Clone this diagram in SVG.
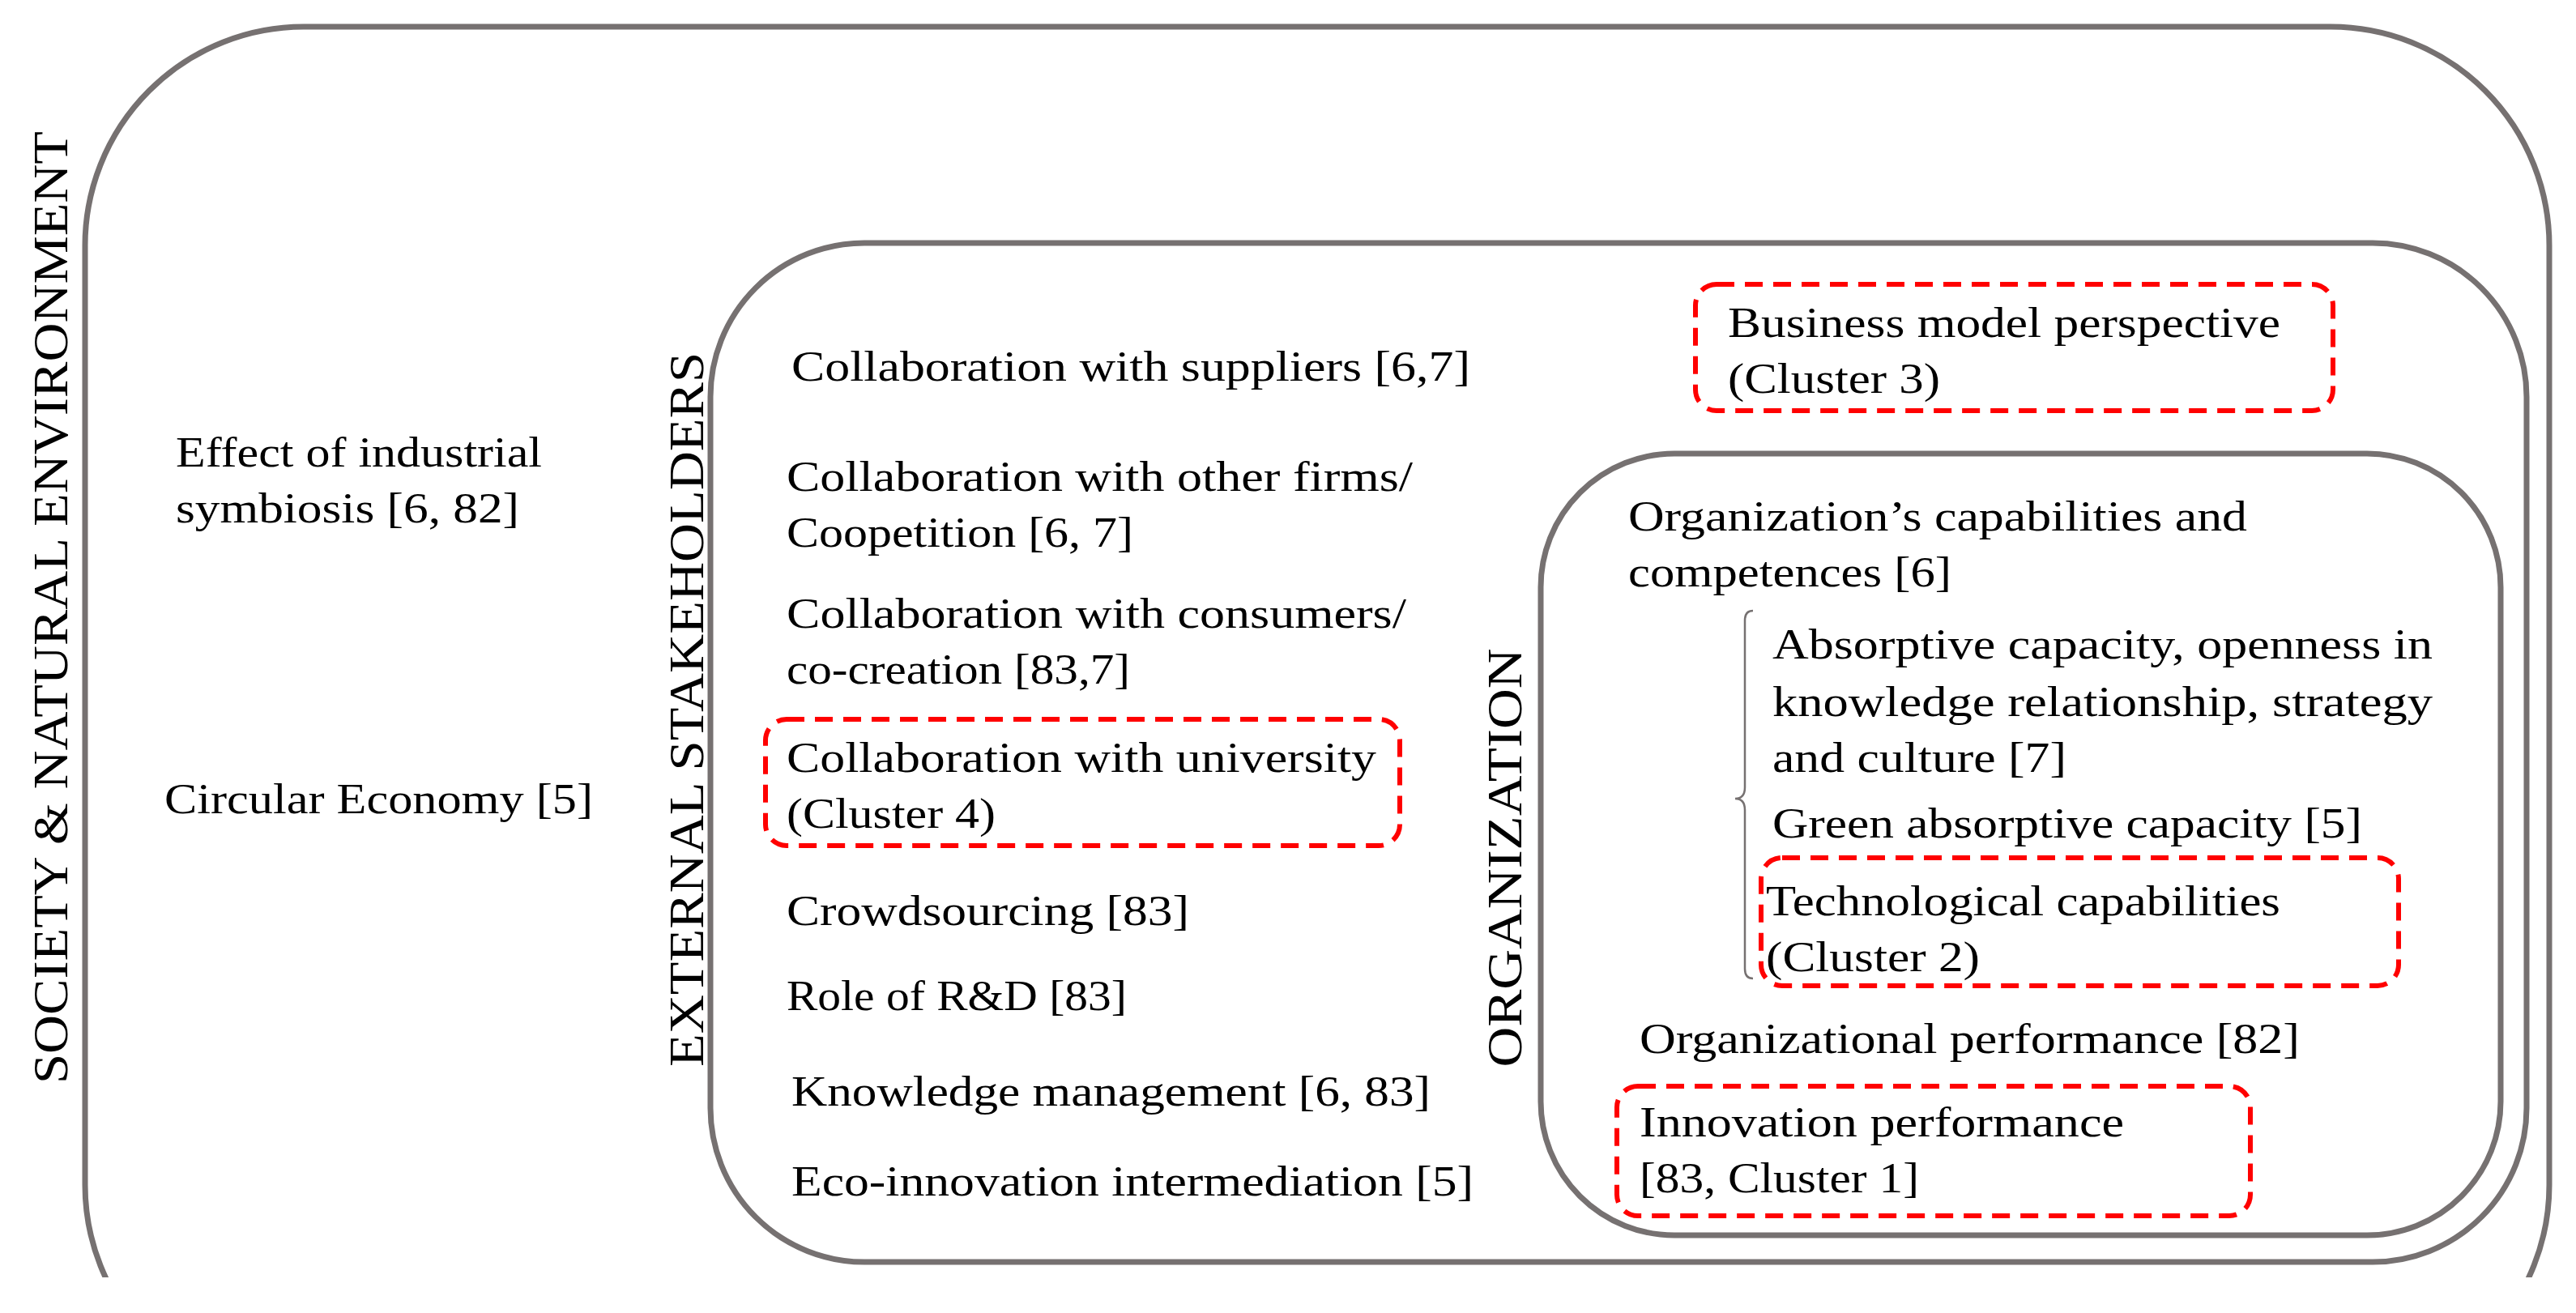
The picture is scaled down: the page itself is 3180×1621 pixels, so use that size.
<svg xmlns="http://www.w3.org/2000/svg" width="3180" height="1621" viewBox="0 0 3180 1621">
<style>
.box{fill:none;stroke:#767171;stroke-width:7}
.dash{fill:none;stroke:#ff0000;stroke-width:6;stroke-dasharray:22 13}
text{font-family:"Liberation Serif",serif;font-size:52px;fill:#000}
.v{font-size:62px}
</style>
<defs><clipPath id="c"><rect x="0" y="0" width="3180" height="1577"/></clipPath></defs>
<rect width="3180" height="1621" fill="#fff"/>
<g id="society">
<rect class="box" x="105" y="33" width="3042" height="1700" rx="270" ry="270" clip-path="url(#c)"/>
<text class="v" transform="translate(83,750) rotate(-90)" text-anchor="middle" textLength="1176" lengthAdjust="spacingAndGlyphs">SOCIETY &amp; NATURAL ENVIRONMENT</text>
<text x="217" y="576" textLength="452" lengthAdjust="spacingAndGlyphs">Effect of industrial</text>
<text x="217" y="645" textLength="424" lengthAdjust="spacingAndGlyphs">symbiosis  [6, 82]</text>
<text x="203" y="1004" textLength="529" lengthAdjust="spacingAndGlyphs">Circular Economy [5]</text>
</g>
<g id="external">
<rect class="box" x="877" y="300" width="2242" height="1258" rx="190" ry="190"/>
<text class="v" transform="translate(868,876) rotate(-90)" text-anchor="middle" textLength="882" lengthAdjust="spacingAndGlyphs">EXTERNAL STAKEHOLDERS</text>
<text x="977" y="470" textLength="838" lengthAdjust="spacingAndGlyphs">Collaboration with suppliers [6,7]</text>
<text x="971" y="606" textLength="773" lengthAdjust="spacingAndGlyphs">Collaboration with other firms/</text>
<text x="971" y="675" textLength="428" lengthAdjust="spacingAndGlyphs">Coopetition [6, 7]</text>
<text x="971" y="775" textLength="765" lengthAdjust="spacingAndGlyphs">Collaboration with consumers/</text>
<text x="971" y="844" textLength="424" lengthAdjust="spacingAndGlyphs">co-creation [83,7]</text>
<text x="971" y="1142" textLength="497" lengthAdjust="spacingAndGlyphs">Crowdsourcing [83]</text>
<text x="971" y="1247" textLength="420" lengthAdjust="spacingAndGlyphs">Role of R&amp;D [83]</text>
<text x="977" y="1365" textLength="789" lengthAdjust="spacingAndGlyphs">Knowledge management [6, 83]</text>
<text x="977" y="1476" textLength="842" lengthAdjust="spacingAndGlyphs">Eco-innovation intermediation [5]</text>
</g>
<g id="university">
<rect class="dash" x="945" y="888" width="783" height="156" rx="26"/>
<text x="971" y="953" textLength="728" lengthAdjust="spacingAndGlyphs">Collaboration with university</text>
<text x="971" y="1022" textLength="258" lengthAdjust="spacingAndGlyphs">(Cluster 4)</text>
</g>
<g id="business">
<rect class="dash" x="2093" y="351" width="787" height="156" rx="26"/>
<text x="2133" y="416" textLength="682" lengthAdjust="spacingAndGlyphs">Business model perspective</text>
<text x="2133" y="485" textLength="262" lengthAdjust="spacingAndGlyphs">(Cluster 3)</text>
</g>
<g id="organization">
<rect class="box" x="1902" y="560" width="1185" height="965" rx="165" ry="165"/>
<text class="v" transform="translate(1878,1059) rotate(-90)" text-anchor="middle" textLength="517" lengthAdjust="spacingAndGlyphs">ORGANIZATION</text>
<text x="2010" y="655" textLength="764" lengthAdjust="spacingAndGlyphs">Organization’s capabilities and</text>
<text x="2010" y="724" textLength="399" lengthAdjust="spacingAndGlyphs">competences [6]</text>
<text x="2188" y="813" textLength="815" lengthAdjust="spacingAndGlyphs">Absorptive capacity, openness in</text>
<text x="2188" y="884" textLength="815" lengthAdjust="spacingAndGlyphs">knowledge relationship, strategy</text>
<text x="2188" y="953" textLength="363" lengthAdjust="spacingAndGlyphs">and culture [7]</text>
<text x="2188" y="1034" textLength="728" lengthAdjust="spacingAndGlyphs">Green absorptive capacity [5]</text>
<text x="2024" y="1300" textLength="815" lengthAdjust="spacingAndGlyphs">Organizational performance [82]</text>
</g>
<g id="connectors">
<path d="M2164,754 Q2154,754 2154,766 L2154,972 Q2154,986 2142,986 Q2154,986 2154,1000 L2154,1196 Q2154,1208 2164,1208" fill="none" stroke="#767171" stroke-width="2.5"/>
</g>
<g id="technological">
<rect class="dash" x="2174" y="1059" width="787" height="158" rx="26"/>
<text x="2180" y="1130" textLength="635" lengthAdjust="spacingAndGlyphs">Technological capabilities</text>
<text x="2180" y="1199" textLength="264" lengthAdjust="spacingAndGlyphs">(Cluster 2)</text>
</g>
<g id="innovation">
<rect class="dash" x="1996" y="1341" width="782" height="160" rx="26"/>
<text x="2024" y="1403" textLength="598" lengthAdjust="spacingAndGlyphs">Innovation performance</text>
<text x="2024" y="1472" textLength="345" lengthAdjust="spacingAndGlyphs">[83, Cluster 1]</text>
</g>
</svg>
